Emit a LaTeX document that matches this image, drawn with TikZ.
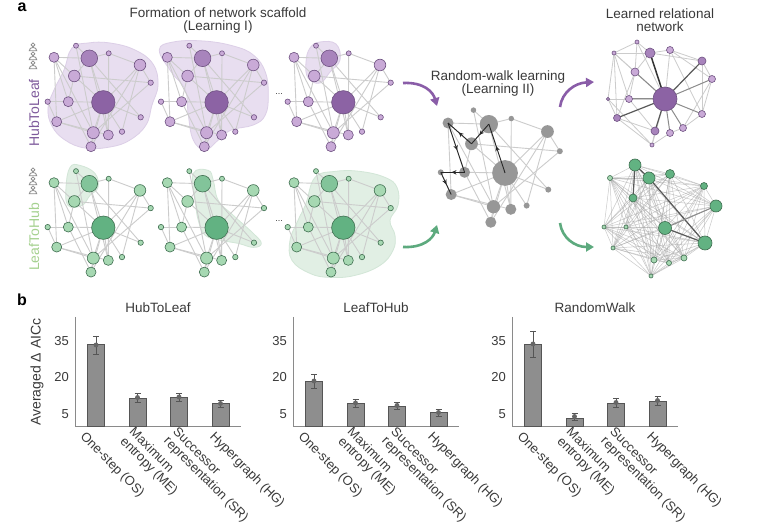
\documentclass[tikz,border=0pt]{standalone}
\usepackage{fontspec}
\setmainfont{Liberation Sans}
\usetikzlibrary{arrows.meta,decorations.markings}
\definecolor{txt}{HTML}{3A3A3A}
\definecolor{pLt}{HTML}{C9AAD7}
\definecolor{pMd}{HTML}{A884BC}
\definecolor{pDk}{HTML}{8C63A4}
\definecolor{pLn}{HTML}{6E5181}
\definecolor{gLt}{HTML}{A6D8B2}
\definecolor{gMd}{HTML}{82C49A}
\definecolor{gDk}{HTML}{62B282}
\definecolor{gLn}{HTML}{3F6E50}
\definecolor{hullP}{HTML}{E8DEF0}
\definecolor{hullPl}{HTML}{DCCFE7}
\definecolor{hullG}{HTML}{E1EFE4}
\definecolor{hullGl}{HTML}{D2E6D7}
\definecolor{edgec}{HTML}{CCCCCC}
\definecolor{grayn}{HTML}{979797}
\definecolor{arrP}{HTML}{8A5DA8}
\definecolor{arrG}{HTML}{5DAA7E}
\definecolor{labP}{HTML}{7E5A9C}
\definecolor{labG}{HTML}{A5D18F}
\definecolor{barf}{HTML}{8E8E8E}
\definecolor{bard}{HTML}{555555}
\definecolor{axisc}{HTML}{8A8A8A}
\definecolor{iconc}{HTML}{8C8C8C}

\tikzset{
 gedge/.style={draw=edgec, line width=0.9pt},
 lgedge/.style={draw=edgec, line width=0.8pt},
 dense/.style={draw=black!35, line width=0.5pt, opacity=0.6},
 dkA/.style={draw=black!80, line width=1.5pt},
 dkB/.style={draw=black!65, line width=1.2pt},
 dkC/.style={draw=black!45, line width=1.0pt},
 gnode/.style={circle, inner sep=0pt, line width=0.6pt},
 purplepal/.style={nl/.style={fill=pLt,draw=pLn}, nm/.style={fill=pMd,draw=pLn}, nd/.style={fill=pDk,draw=pLn}},
 greenpal/.style={nl/.style={fill=gLt,draw=gLn}, nm/.style={fill=gMd,draw=gLn}, nd/.style={fill=gDk,draw=gLn}},
 graypal/.style={nl/.style={fill=grayn}, nm/.style={fill=grayn}, nd/.style={fill=grayn}},
 hullp/.style={fill=hullP, draw=hullPl, line width=0.8pt},
 hullg/.style={fill=hullG, draw=hullGl, line width=0.8pt},
 ttl/.style={font=\fontsize{13.5}{13}\selectfont, text=txt, align=center, inner sep=0pt},
 panellab/.style={font=\fontsize{16}{16}\selectfont\bfseries, text=black, inner sep=0pt},
 rowlab/.style={font=\fontsize{14}{14}\selectfont, rotate=90, inner sep=0pt},
 iconl/.style={draw=iconc, line width=0.8pt},
 bigarrow/.style={line width=2.6pt, -{Triangle[length=8pt,width=9pt]}},
 walkline/.style={draw=black!85, line width=0.9pt, postaction={decorate},
   decoration={markings, mark=at position 0.55 with {\arrow{Stealth[length=5pt,width=4.5pt]}}}},
 axisl/.style={draw=axisc, line width=0.9pt},
 bar/.style={fill=barf, draw=bard, line width=0.8pt},
 errb/.style={draw=bard, line width=0.9pt},
 errm/.style={draw=black!60, line width=1.1pt},
 tickl/.style={font=\fontsize{13}{13}\selectfont, text=txt, inner sep=0pt, anchor=east},
 catl/.style={font=\fontsize{13}{13}\selectfont, text=txt, rotate=-45, anchor=west, align=left, inner sep=0pt},
 dotsl/.style={font=\fontsize{9}{9}\selectfont, text=txt, inner sep=0pt}
}

\def\rf{1}
\newcommand\basegraph[1]{%
 \foreach \n/\x/\y in {A/54/57.3, B/76/45.7, C/89.3/58.3, D/108.7/53.3, E/140/65, F/74.3/76, G/150.7/82.7, H/47.7/101.7, I/68.3/101.7, J/103.3/102.3, K/56.7/121.7, L/140.7/117.3, M/93.3/132.7, N/108.3/135, O/122/131.7, P/91/146.7}
   \coordinate (#1\n) at (\x,\y);
 \foreach \ea/\eb in {A/C, A/K, A/M, A/I, A/F, B/C, B/M, C/D, C/F, C/J, C/N, C/L, D/E, D/N, E/J, E/P, E/O, E/G, F/J, F/G, F/I, H/I, H/K, I/J, I/P, K/J, K/N, K/M, J/L, J/M, J/N, J/O, J/P, M/P, G/M}
   \draw[gedge] (#1\ea) -- (#1\eb);
}
\newcommand\basenodes[1]{%
 \foreach \n/\rr/\s in {A/5/nl, B/2.5/nl, C/8.3/nm, D/2.5/nl, E/5.8/nl, F/5.8/nl, G/2.7/nl, H/2.7/nl, I/5/nl, J/11.7/nd, K/5/nl, L/2.7/nl, M/6/nl, N/5/nl, O/2.7/nl, P/5/nl}
   \node[gnode, \s, minimum size={2*\rr*\rf}] (#1\n n) at (#1\n) {};
}
\newcommand\personicon[2]{%
 \draw[iconl] (#1,#2-2.2) circle[radius=1.9];
 \draw[iconl] (#1-3.8,#2+3.8) .. controls (#1-3.8,#2-0.6) and (#1+3.8,#2-0.6) .. (#1+3.8,#2+3.8) -- cycle;
}
\newcommand\barpanel[4]{%
 \draw[axisl] (#1,317) -- (#1,426) -- (#1+166,426);
 \node[ttl] (#2title) at (#1+83,308) {#3};
 \node[tickl] (#2y35) at (#1-6,340.6) {35};
 \node[tickl] (#2y20) at (#1-6,377.2) {20};
 \node[tickl] (#2y5) at (#1-6,413.8) {5};
 \foreach \tp/\lo/\hi [count=\i] in {#4} {
   \pgfmathsetmacro\cx{#1+21+41.5*(\i-1)}
   \pgfmathsetmacro\mn{(\lo+\hi)/2}
   \filldraw[bar] (\cx-8.5,426) rectangle (\cx+8.5,\tp);
   \draw[errb] (\cx,\lo) -- (\cx,\hi) (\cx-3,\lo) -- (\cx+3,\lo) (\cx-3,\hi) -- (\cx+3,\hi);
   \draw[errm] (\cx-2.3,\mn) -- (\cx+2.3,\mn) (\cx,\mn-2.3) -- (\cx,\mn+2.3)
     (\cx-1.7,\mn-1.7) -- (\cx+1.7,\mn+1.7) (\cx-1.7,\mn+1.7) -- (\cx+1.7,\mn-1.7);
 }
 \foreach \lab/\off [count=\i] in {{One-step (OS)}/-14, {Maximum\\entropy (ME)}/-11, {Successor\\representation (SR)}/-9, {Hypergraph (HG)}/-9} {
   \pgfmathsetmacro\cx{#1+21+41.5*(\i-1)}
   \node[catl] (#2c\i) at (\cx+\off,435) {\lab};
 }
}

\begin{document}
\begin{tikzpicture}[x=1pt,y=-1pt]
\useasboundingbox[fill=white] (0,0) rectangle (760,526);

% ---------- panel a texts ----------
\node[panellab] (pa) at (22,7) {a};
\node[ttl] (t1) at (218,20.5) {Formation of network scaffold\\(Learning I)};
\node[ttl] (t2) at (660,20.5) {Learned relational\\network};
\node[ttl] (t3) at (498,84) {Random-walk learning\\(Learning II)};
\node[rowlab, text=labP] (rl1) at (34,113) {HubToLeaf};
\node[rowlab, text=labG] (rl2) at (34,237) {LeafToHub};
\personicon{33}{47}\personicon{33}{56}\personicon{33}{65}
\personicon{33}{172}\personicon{33}{181}\personicon{33}{190}
\node[dotsl] (d1) at (279,94) {...};
\node[dotsl] (d2) at (279,221) {...};

% ---------- purple row ----------
\begin{scope}[purplepal]
 \fill[hullp] plot[smooth cycle, tension=0.7] coordinates {(72,48) (88,43) (110,43) (135,50) (153,64) (158,85) (152,105) (146,125) (130,140) (110,147) (85,148) (65,140) (52,126) (48,108) (54,90) (64,70)};
 \basegraph{pA}\basenodes{pA}
\end{scope}
\begin{scope}[purplepal, shift={(113.3,0)}]
 \fill[hullp] plot[smooth cycle, tension=0.7] coordinates {(46,50) (60,42) (90,41) (120,46) (140,55) (152,72) (155,95) (152,115) (140,125) (118,130) (105,140) (92,150) (80,140) (75,115) (72,90) (58,72)};
 \basegraph{pB}\basenodes{pB}
\end{scope}
\begin{scope}[purplepal, shift={(240,0)}]
 \fill[hullp] plot[smooth cycle, tension=0.7] coordinates {(70,48) (80,42) (96,44) (100,60) (90,72) (80,83) (68,78) (66,62)};
 \basegraph{pC}\basenodes{pC}
\end{scope}

% ---------- green row ----------
\begin{scope}[greenpal, shift={(0,125.4)}]
 \fill[hullg] plot[smooth cycle, tension=0.7] coordinates {(70,42) (80,40) (95,48) (98,62) (90,70) (82,80) (68,80) (66,62)};
 \basegraph{gA}\basenodes{gA}
\end{scope}
\begin{scope}[greenpal, shift={(113.3,125.4)}]
 \fill[hullg] plot[smooth cycle, tension=0.7] coordinates {(80,48) (95,45) (100,55) (105,75) (120,90) (140,108) (148,118) (140,122) (125,118) (108,115) (92,110) (85,95) (82,75)};
 \basegraph{gB}\basenodes{gB}
\end{scope}
\begin{scope}[greenpal, shift={(240,125.4)}]
 \fill[hullg] plot[smooth cycle, tension=0.7] coordinates {(75,52) (95,46) (120,46) (145,52) (157,62) (158,80) (150,95) (155,110) (153,125) (140,140) (115,150) (90,152) (70,148) (52,135) (50,115) (58,95) (66,78)};
 \basegraph{gC}\basenodes{gC}
\end{scope}

% ---------- middle random walk graph ----------
\begin{scope}[graypal, shift={(385.6,59.4)}, xscale=1.156, yscale=1.11]
 \def\rf{1.1}
 \basegraph{rw}\basenodes{rw}
 \draw[walkline] (rwJ) -- (rwC);
 \draw[walkline] (rwC) -- (rwF);
 \draw[walkline] (rwF) -- (rwA);
 \draw[walkline] (rwA) -- (rwI);
 \draw[walkline] (rwI) -- (rwH);
 \draw[walkline] (rwH) -- (rwK);
\end{scope}

% ---------- arrows ----------
\coordinate (a1s) at (403,83); \coordinate (a1e) at (437,106);
\coordinate (a2s) at (560,107); \coordinate (a2e) at (594,82);
\coordinate (a3s) at (403,247); \coordinate (a3e) at (437,225);
\coordinate (a4s) at (560,223); \coordinate (a4e) at (594,247);
\draw[bigarrow, arrP] (a1s) .. controls (424,82) and (433,92) .. (a1e);
\draw[bigarrow, arrP] (a2s) .. controls (562,92) and (575,83) .. (a2e);
\draw[bigarrow, arrG] (a3s) .. controls (424,248) and (433,238) .. (a3e);
\draw[bigarrow, arrG] (a4s) .. controls (562,238) and (575,247) .. (a4e);

% ---------- learned purple ----------
\begin{scope}[purplepal]
 \foreach \n/\x/\y in {1/637/42, 2/614/53, 3/650/53, 4/670/50, 5/702/61, 6/635/72, 7/712/79, 8/608/99, 9/629/99, 10/665/99, 11/617/118, 12/702/114, 13/655/131, 14/670/133, 15/683/128, 16/652/145}
   \coordinate (lp\n) at (\x,\y);
 \foreach \ea/\eb in {1/2, 1/3, 1/6, 1/10, 2/3, 2/6, 2/8, 2/9, 2/11, 2/10, 3/4, 3/6, 3/5, 4/5, 4/7, 4/10, 4/12, 5/7, 5/12, 6/9, 6/11, 7/12, 7/15, 8/9, 8/11, 8/16, 8/10, 9/13, 11/13, 11/16, 12/15, 13/16, 14/15, 14/16, 16/10}
   \draw[lgedge] (lp\ea) -- (lp\eb);
 \draw[dkA] (lp10) -- (lp3);
 \foreach \eb in {5,11,13} \draw[dkB] (lp10) -- (lp\eb);
 \foreach \eb in {6,7,9,12,14,15} \draw[dkC] (lp10) -- (lp\eb);
 \foreach \n/\rr/\s in {1/2/nl, 2/2/nl, 3/5/nm, 4/3.5/nl, 5/4/nm, 6/4/nl, 7/3.5/nl, 8/1.6/nl, 9/3.5/nl, 10/12/nd, 11/3.5/nm, 12/3.5/nl, 13/4/nm, 14/3.5/nl, 15/3.5/nl, 16/2/nl}
   \node[gnode, \s, minimum size={2*\rr}] (lp\n n) at (lp\n) {};
\end{scope}

% ---------- learned green ----------
\begin{scope}[greenpal]
 \foreach \n/\x/\y in {1/635/165, 2/610/178, 3/649/178, 4/670/174, 5/704/186, 6/633/198, 7/716/206, 8/604/227, 9/626/227, 10/665/228, 11/705/243, 12/613/248, 13/654/260, 14/669/263, 15/684/258, 16/651/276}
   \coordinate (lg\n) at (\x,\y);
 \foreach \i in {1,...,15} {
   \pgfmathtruncatemacro\k{\i+1}
   \foreach \j in {\k,...,16} { \draw[dense] (lg\i) -- (lg\j); }
 }
 \draw[dkB] (lg1) -- (lg6);
 \draw[dkB] (lg1) -- (lg3);
 \draw[dkB] (lg3) -- (lg11);
 \draw[dkB] (lg10) -- (lg11);
 \draw[dkC] (lg10) -- (lg7);
 \foreach \n/\rr/\s in {1/6/nd, 2/2.5/nl, 3/6/nd, 4/4.5/nd, 5/3.5/nd, 6/4/nd, 7/6/nd, 8/2/nl, 9/2/nl, 10/6.5/nd, 11/7/nd, 12/2/nl, 13/3/nl, 14/2.5/nl, 15/3/nl, 16/2/nl}
   \node[gnode, \s, minimum size={2*\rr}] (lg\n n) at (lg\n) {};
\end{scope}

% ---------- panel b ----------
\node[panellab] (pb) at (22,300) {b};
\node[rowlab, text=txt] (ylab) at (37,372) {Averaged Δ AICc};
\barpanel{75}{hl}{HubToLeaf}{344/336/354, 398/393/402, 397/393/401, 403/400/407}
\barpanel{293}{lh}{LeafToHub}{381/374/388, 403/399/407, 406/402/409, 412/409/416}
\barpanel{512}{rw}{RandomWalk}{344/331/357, 418/413/420, 403/398/407, 401/396/405}

\end{tikzpicture}
\end{document}
